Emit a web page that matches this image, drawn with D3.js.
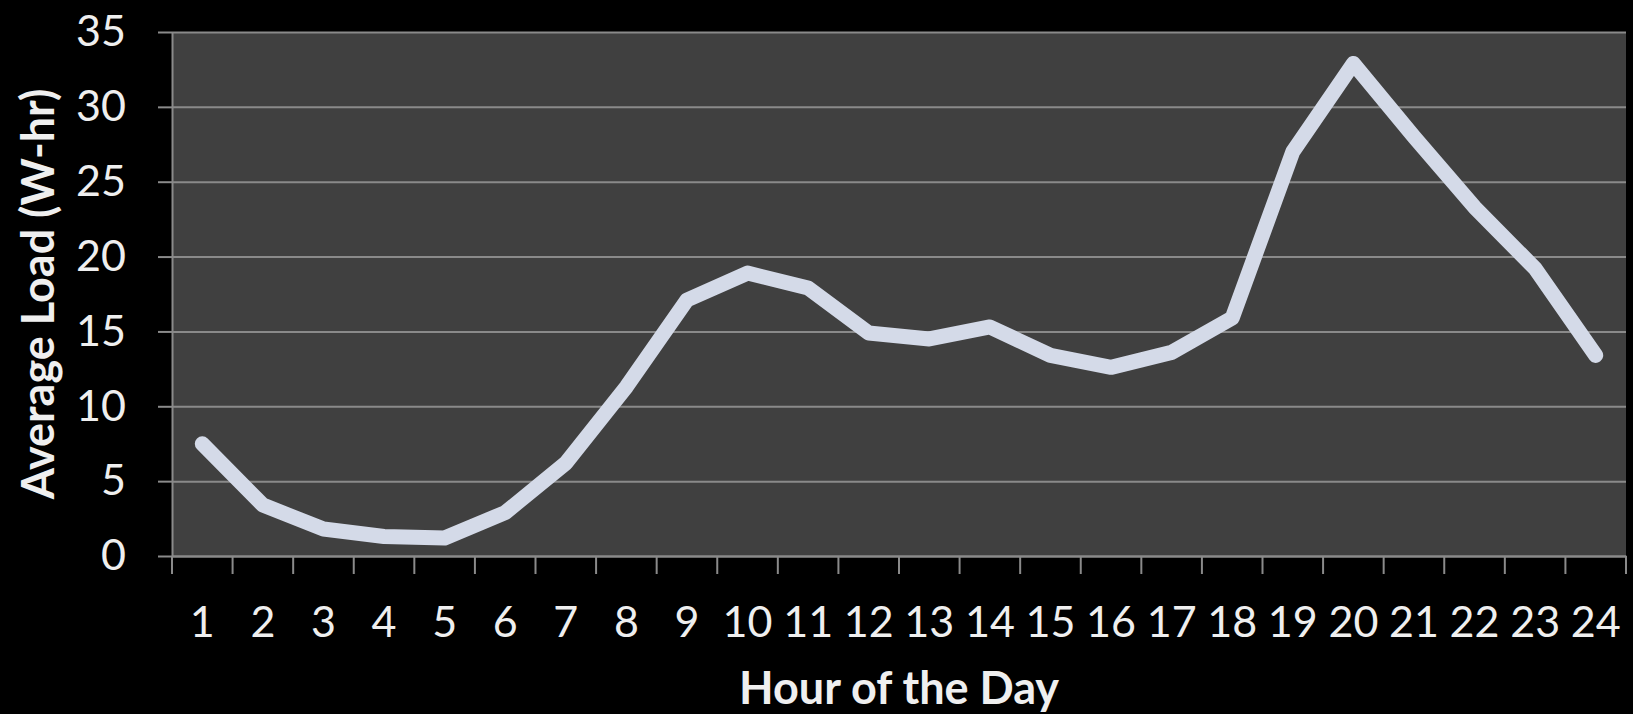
<!DOCTYPE html>
<html>
<head>
<meta charset="utf-8">
<script src="https://cdn.jsdelivr.net/npm/d3@7"></script>
<style>
  html, body { margin: 0; padding: 0; background: #000; }
  #chart-load { width: 1633px; height: 714px; }
</style>
</head>
<body>
<div id="chart-load"></div>
<script>
// hours on the x axis
var hours = ["1","2","3","4","5","6","7","8","9","10","11","12",
             "13","14","15","16","17","18","19","20","21","22","23","24"];
// average load per hour (W-hr)
var avgLoad = [7.5, 3.4, 1.8, 1.3, 1.2, 2.9, 6.2, 11.3, 17.1, 18.9, 17.9, 14.9,
               14.5, 15.3, 13.4, 12.6, 13.6, 15.9, 27.0, 32.9, 28.0, 23.3, 19.2, 13.4];
var yTicks = [0, 5, 10, 15, 20, 25, 30, 35];

var width = 1633, height = 714;
var margin = { top: 32, right: 7, bottom: 158, left: 172 };
var innerW = width - margin.left - margin.right;
var innerH = height - margin.top - margin.bottom;
var font = "Lato, 'Open Sans', sans-serif";
var lineColor = "#d4dae8";
var gridColor = "#8a8a8a";

var svg = d3.select("#chart-load")
    .append("svg")
    .attr("width", width)
    .attr("height", height)
    .style("background", "#000");

var g = svg.append("g")
    .attr("transform", "translate(" + margin.left + "," + margin.top + ")");

var x = d3.scaleBand()
    .domain(hours)
    .range([0, innerW])
    .padding(0);

var y = d3.scaleLinear()
    .domain([0, 35])
    .range([innerH, 0]);

// plot area
g.append("rect")
    .attr("width", innerW)
    .attr("height", innerH)
    .attr("fill", "#404040");

// gridlines
g.append("g")
    .attr("class", "grid")
    .call(d3.axisLeft(y).tickValues(yTicks).tickSize(-innerW).tickFormat(""))
    .call(function(s) {
        s.select(".domain").remove();
        s.selectAll("line").attr("stroke", gridColor).attr("stroke-width", 2);
    });

// y axis
g.append("g")
    .attr("class", "y axis")
    .call(d3.axisLeft(y).tickValues(yTicks).tickSize(14).tickPadding(32).tickSizeOuter(0))
    .call(function(s) {
        s.select(".domain").attr("stroke", gridColor).attr("stroke-width", 2);
        s.selectAll("line").attr("stroke", gridColor).attr("stroke-width", 2);
        s.selectAll("text")
            .attr("fill", "#efefef")
            .style("font-family", font)
            .style("font-size", "43px");
    });

// x axis: labels centred in each band, ticks on band edges
var xAxis = g.append("g")
    .attr("class", "x axis")
    .attr("transform", "translate(0," + innerH + ")")
    .call(d3.axisBottom(x).tickSize(0).tickPadding(50).tickSizeOuter(0))
    .call(function(s) {
        s.select(".domain").attr("stroke", gridColor).attr("stroke-width", 2);
        s.selectAll("text")
            .attr("fill", "#efefef")
            .style("font-family", font)
            .style("font-size", "43px");
    });

var edges = hours.map(function(h) { return x(h); }).concat([x(hours[hours.length - 1]) + x.bandwidth()]);
xAxis.selectAll(".edge")
    .data(edges)
    .enter()
    .append("line")
        .attr("class", "edge")
        .attr("x1", function(d) { return d; })
        .attr("x2", function(d) { return d; })
        .attr("y1", 0)
        .attr("y2", 18)
        .attr("stroke", gridColor)
        .attr("stroke-width", 2);

// the load line
var line = d3.line()
    .x(function(d, i) { return x(hours[i]) + x.bandwidth() / 2; })
    .y(function(d) { return y(d); });

g.append("path")
    .datum(avgLoad)
    .attr("d", line)
    .attr("fill", "none")
    .attr("stroke", lineColor)
    .attr("stroke-width", 15)
    .attr("stroke-linejoin", "round")
    .attr("stroke-linecap", "round");

// axis titles
svg.append("text")
    .attr("x", margin.left + innerW / 2)
    .attr("y", 704)
    .attr("text-anchor", "middle")
    .attr("fill", "#efefef")
    .style("font-family", font)
    .style("font-weight", "bold")
    .style("font-size", "45px")
    .text("Hour of the Day");

svg.append("text")
    .attr("transform", "translate(54," + (margin.top + innerH / 2) + ") rotate(-90)")
    .attr("text-anchor", "middle")
    .attr("fill", "#efefef")
    .style("font-family", font)
    .style("font-weight", "bold")
    .style("font-size", "45px")
    .text("Average Load (W-hr)");
</script>
</body>
</html>
